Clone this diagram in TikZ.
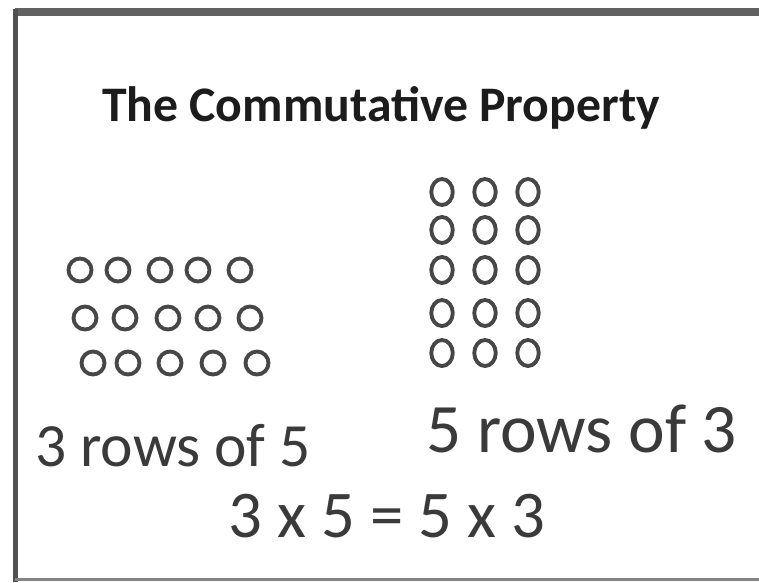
\documentclass[tikz,border=0pt]{standalone}
\usepackage{fontspec}
\setmainfont{Carlito}
\usetikzlibrary{positioning,shapes.geometric}
\definecolor{ink}{HTML}{3A3A3A}
\definecolor{pen}{HTML}{474747}
\definecolor{edge}{HTML}{505050}
\definecolor{ttl}{HTML}{1C1C1C}
\newcommand{\handsz}[1]{\fontsize{#1}{#1}\selectfont}
\tikzset{
  dot/.style={circle,draw=pen,line width=2.2pt,inner sep=0pt,minimum size=0.46cm},
  tdot/.style={ellipse,draw=pen,line width=2.2pt,inner sep=0pt,minimum width=0.43cm,minimum height=0.52cm},
  hand/.style={text=ink,anchor=base west,inner sep=0pt},
  ttlbox/.style={text=ttl,font=\bfseries\fontsize{28.3}{30}\selectfont,anchor=base,inner sep=0pt},
}

\begin{document}
\begin{tikzpicture}[x=0.02cm,y=-0.02cm]
  \useasboundingbox (0,0) rectangle (759,582);
  \fill[white] (0,0) rectangle (759,582);
  % frame
  \draw[edge!90,line width=0.16cm] (15,12) -- (759,12);
  \draw[edge,line width=0.1cm] (15,9) -- (15,582);
  \draw[edge!70,line width=0.06cm] (15,579) -- (759,579);
  \node[ttlbox] (title) at (381,121) {The Commutative Property};
  % 3 rows of 5
  \foreach \x [count=\i] in {80,118,160,198,240} \node[dot] (a\i) at (\x,270) {};
  \foreach \x [count=\i] in {85,125,168,208,250} \node[dot] (b\i) at (\x,318) {};
  \foreach \x [count=\i] in {93,128,170,213,257} \node[dot] (c\i) at (\x,363) {};
  % 5 rows of 3
  \foreach \y [count=\j] in {192,230,270,313,353}
    \foreach \x [count=\i] in {442,485,528} \node[tdot] (r\j\i) at (\x,\y) {};
  \node[hand,font=\handsz{35}] (lblA) at (35,466) {3 rows of 5};
  \node[hand,font=\handsz{39.5}] (lblB) at (426,452) {5 rows of 3};
  \node[hand,font=\handsz{38}] (eqn) at (228,537) {3 x 5 = 5 x 3};
\end{tikzpicture}
\end{document}
